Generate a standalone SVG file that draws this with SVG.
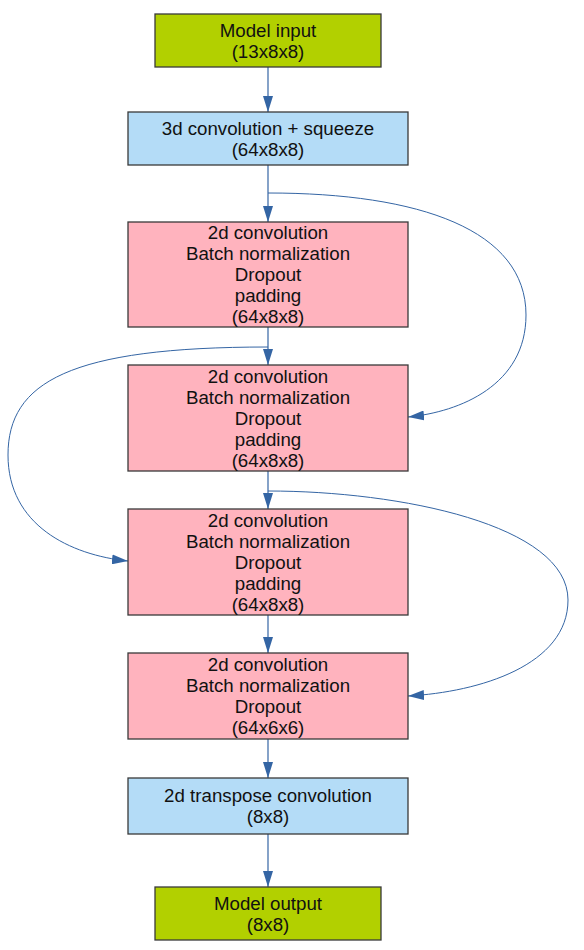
<svg xmlns="http://www.w3.org/2000/svg" width="584" height="950" viewBox="0 0 584 950">
<defs>
<style>
.box{stroke:#3a3a3a;stroke-width:1.3}
.green{fill:#b2d000}
.blue{fill:#b4dcf7}
.pink{fill:#ffb3be}
text{font-family:"Liberation Sans",Arial,sans-serif;font-size:18.7px;fill:#111;text-anchor:middle}
.edge{fill:none;stroke:#3465a4;stroke-width:1.2;marker-end:url(#ah)}
.curve{stroke-width:1}
</style>
<marker id="ah" markerUnits="userSpaceOnUse" markerWidth="16" markerHeight="10" refX="16" refY="5" orient="auto">
<path d="M0,0 L16,5 L0,10 z" fill="#3465a4"/>
</marker>
</defs>
<rect width="584" height="950" fill="#fff"/>
<g id="connectors">
<path class="edge" d="M268,67 V112"/>
<path class="edge" d="M268,165 V222"/>
<path class="edge" d="M268,327 V365"/>
<path class="edge" d="M268,471 V509"/>
<path class="edge" d="M268,615 V653"/>
<path class="edge" d="M268,739 V778"/>
<path class="edge" d="M268,834 V887"/>
<path class="edge curve" d="M268,193 C420,193 526,230 526,315 C526,385 460,412 408,417"/>
<path class="edge curve" d="M268,347 C70,347 8,382 8,455 C8,525 70,555 128,561"/>
<path class="edge curve" d="M268,491 C400,491 568,525 568,600 C568,665 480,692 408,696"/>
</g>
<g id="input">
<rect class="box green" x="155" y="14" width="226" height="53"/>
<text x="268" y="36.5">Model input</text>
<text x="268" y="57.5">(13x8x8)</text>
</g>
<g id="conv3d">
<rect class="box blue" x="128" y="112" width="280" height="53"/>
<text x="268" y="134.5">3d convolution + squeeze</text>
<text x="268" y="155.5">(64x8x8)</text>
</g>
<g id="conv2d_1">
<rect class="box pink" x="128" y="222" width="280" height="105"/>
<text x="268" y="239">2d convolution</text>
<text x="268" y="260">Batch normalization</text>
<text x="268" y="281">Dropout</text>
<text x="268" y="302">padding</text>
<text x="268" y="323">(64x8x8)</text>
</g>
<g id="conv2d_2">
<rect class="box pink" x="128" y="365" width="280" height="106"/>
<text x="268" y="382.5">2d convolution</text>
<text x="268" y="403.5">Batch normalization</text>
<text x="268" y="424.5">Dropout</text>
<text x="268" y="445.5">padding</text>
<text x="268" y="466.5">(64x8x8)</text>
</g>
<g id="conv2d_3">
<rect class="box pink" x="128" y="509" width="280" height="106"/>
<text x="268" y="526.5">2d convolution</text>
<text x="268" y="547.5">Batch normalization</text>
<text x="268" y="568.5">Dropout</text>
<text x="268" y="589.5">padding</text>
<text x="268" y="610.5">(64x8x8)</text>
</g>
<g id="conv2d_4">
<rect class="box pink" x="128" y="653" width="280" height="86"/>
<text x="268" y="671">2d convolution</text>
<text x="268" y="692">Batch normalization</text>
<text x="268" y="713">Dropout</text>
<text x="268" y="734">(64x6x6)</text>
</g>
<g id="transpose">
<rect class="box blue" x="128" y="778" width="280" height="56"/>
<text x="268" y="802">2d transpose convolution</text>
<text x="268" y="823">(8x8)</text>
</g>
<g id="output">
<rect class="box green" x="155" y="887" width="226" height="53"/>
<text x="268" y="909.5">Model output</text>
<text x="268" y="930.5">(8x8)</text>
</g>
</svg>
